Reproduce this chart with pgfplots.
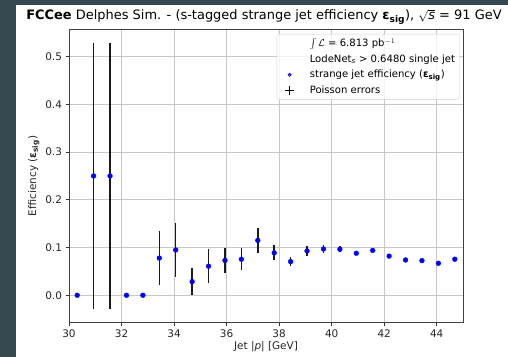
\documentclass[border=0pt]{standalone}
\usepackage{amsmath}
\usepackage{pgfplots}
\pgfplotsset{compat=1.18}
\usepackage{pgfplotstable}
\usepackage{fontspec}
\setmainfont{DejaVu Sans}
\definecolor{bgdark}{RGB}{55,71,79}
\pgfplotstableread{
x y e
30.3125 0 0
30.9375 0.25 0.279
31.5625 0.25 0.279
32.1875 0 0
32.8125 0 0
33.4375 0.078 0.056
34.0625 0.095 0.056
34.6875 0.0286 0.028
35.3125 0.061 0.036
35.9375 0.073 0.027
36.5625 0.0755 0.023
37.1875 0.115 0.026
37.8125 0.089 0.016
38.4375 0.0705 0.010
39.0625 0.093 0.010
39.6875 0.097 0.008
40.3125 0.0964 0.006
40.9375 0.088 0.004
41.5625 0.094 0.003
42.1875 0.082 0.002
42.8125 0.074 0.002
43.4375 0.0726 0.002
44.0625 0.067 0.002
44.6875 0.0755 0.002
}\effdata
\begin{document}
\begin{tikzpicture}
\useasboundingbox (0,0) rectangle (508bp,357bp);
\fill[bgdark] (0,0) rectangle (508bp,357bp);
\fill[white] (16bp,0) rectangle (508bp,351.5bp);
\begin{axis}[
  at={(69bp,34.3bp)}, anchor=south west,
  scale only axis, width=394bp, height=293.7bp,
  xmin=30, xmax=45, ymin=-0.0575, ymax=0.558,
  xtick={30,32,...,44}, ytick={0,0.1,...,0.5},
  yticklabel style={/pgf/number format/.cd, fixed, fixed zerofill, precision=1},
  /pgf/number format/assume math mode=true,
  tick label style={font=\fontsize{10.5}{12}\selectfont, text=black!85},
  tick align=outside, major tick length=3.5bp,
  tick style={black!80, line width=0.7bp},
  xtick pos=bottom, ytick pos=left,
  axis line style={black!75, line width=0.8bp},
  grid=major, major grid style={black!22, line width=0.8bp},
  xlabel={Jet |\textit{p}| [GeV]},
  ylabel={Efficiency ({\bfseries ε\textsubscript{sig}})},
  label style={font=\fontsize{10.5}{12}\selectfont, text=black!85},
  xlabel style={yshift=3bp},
  ylabel style={yshift=-1bp},
  legend style={at={(rel axis cs:0.9915,0.983)}, anchor=north east,
    draw=black!18, rounded corners=2pt, fill=white, fill opacity=0.8, text opacity=1,
    font=\fontsize{10.1}{11}\selectfont, row sep=2.4bp, inner sep=2.5bp,
    cells={anchor=west}},
  legend cell align=left,
]
\addlegendimage{legend image code/.code={\path (0,0) (28bp,0);}}
\addlegendentry{$\int\mathcal{L}$ = 6.813 pb$^{-1}$}
\addlegendimage{legend image code/.code={\path (0,0) (28bp,0);}}
\addlegendentry{LodeNet\textsubscript{\textit{s}} > 0.6480 single jet}
\addlegendimage{legend image code/.code={\path (0,0) (28bp,0); \fill[blue] (10bp,0) circle (1.8bp);}}
\addlegendentry{strange jet efficiency ({\bfseries ε\textsubscript{sig}})}
\addlegendimage{legend image code/.code={\path (0,0) (28bp,0); \draw[black, line width=1.2bp] (5.5bp,0) -- (14.5bp,0) (10bp,-4.5bp) -- (10bp,4.5bp);}}
\addlegendentry{Poisson errors}
\addplot[forget plot, draw=none, mark=none,
  error bars/.cd, y dir=both, y explicit, error mark=none,
  error bar style={black!90, line width=1.5bp}]
  table[x=x, y=y, y error=e] {\effdata};
\addplot[forget plot, only marks, mark=*, mark options={blue, draw=blue, fill=blue}, mark size=2.4bp]
  table[x=x, y=y] {\effdata};
\end{axis}
\node[anchor=base, font=\fontsize{13.0}{15}\selectfont, inner sep=0] at (264bp,337bp)
  {\textbf{FCCee} Delphes Sim. - (s-tagged strange jet efficiency {\bfseries ε\textsubscript{sig}}), $\sqrt{\textit{s}}$ = 91 GeV};
\end{tikzpicture}
\end{document}
